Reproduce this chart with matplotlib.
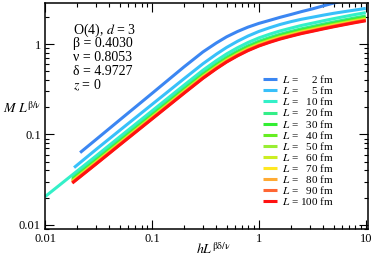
import matplotlib
matplotlib.use("Agg")
import matplotlib.pyplot as plt
from matplotlib import ticker

plt.rcParams['font.family'] = ['Liberation Serif', 'DejaVu Serif']
plt.rcParams['mathtext.fontset'] = 'stix'

# x = h L^{beta delta / nu}, y = M L^{beta / nu}
x_common = [0.018, 0.03, 0.05, 0.1, 0.2, 0.3, 0.4, 0.5, 0.63, 0.79, 1,
            1.26, 1.58, 2, 2.5, 3.2, 4, 5, 6.3, 7.9, 10]

x_L2 = [0.0213, 0.03, 0.05, 0.1, 0.2, 0.3, 0.4, 0.5, 0.63, 0.79, 1,
        1.26, 1.58, 2, 2.5, 3.2, 4, 5, 6.3]
y_L2 = [0.063, 0.0879, 0.1448, 0.2842, 0.5606, 0.8193, 1.0287, 1.2046, 1.3764,
        1.5397, 1.6946, 1.8305, 1.9784, 2.128, 2.2873, 2.4603, 2.6496, 2.8438, 3.03]

x_L5 = [0.0187, 0.03, 0.05, 0.1, 0.2, 0.3, 0.4, 0.5, 0.63, 0.79, 1,
        1.26, 1.58, 2, 2.5, 3.2, 4, 5, 6.3, 7.9, 10]
y_L5 = [0.043, 0.0682, 0.1111, 0.2146, 0.4147, 0.6061, 0.7729, 0.9193, 1.073,
        1.2267, 1.3804, 1.5167, 1.6487, 1.7734, 1.8821, 1.9877, 2.0902, 2.1911,
        2.2864, 2.3805, 2.4838]

x_L10 = [0.01] + x_common
y_L10 = [0.0205, 0.0357, 0.0578, 0.0942, 0.182, 0.3518, 0.5141, 0.6556, 0.7798,
         0.9102, 1.0406, 1.171, 1.2866, 1.3985, 1.5043, 1.6076, 1.7097, 1.8106,
         1.9114, 2.016, 2.1218, 2.23]

y_L20 = [0.0328, 0.0531, 0.0866, 0.1672, 0.3232, 0.4723, 0.6023, 0.7164, 0.8362,
         0.956, 1.0758, 1.182, 1.2848, 1.382, 1.4769, 1.5707, 1.6634, 1.756,
         1.8521, 1.9493, 2.0487]
y_L30 = [0.0316, 0.0512, 0.0835, 0.1613, 0.3117, 0.4556, 0.581, 0.6911, 0.8066,
         0.9221, 1.0377, 1.1401, 1.2393, 1.3331, 1.4246, 1.5151, 1.6045, 1.6939,
         1.7865, 1.8803, 1.9762]
y_L40 = [0.031, 0.0503, 0.082, 0.1584, 0.306, 0.4473, 0.5703, 0.6784, 0.7918,
         0.9052, 1.0186, 1.1192, 1.2166, 1.3086, 1.3985, 1.4873, 1.575, 1.6628,
         1.7537, 1.8458, 1.9399]
y_L50 = [0.0306, 0.0496, 0.0808, 0.1561, 0.3017, 0.441, 0.5623, 0.6689, 0.7807,
         0.8925, 1.0044, 1.1035, 1.1995, 1.2903, 1.3789, 1.4665, 1.553, 1.6395,
         1.7291, 1.8199, 1.9127]
y_L60 = [0.0302, 0.0489, 0.0797, 0.1539, 0.2974, 0.4347, 0.5543, 0.6594, 0.7696,
         0.8798, 0.9901, 1.0878, 1.1825, 1.2719, 1.3593, 1.4456, 1.5309, 1.6162,
         1.7046, 1.794, 1.8855]
y_L70 = [0.0299, 0.0484, 0.0789, 0.1524, 0.2946, 0.4305, 0.549, 0.653, 0.7622,
         0.8714, 0.9806, 1.0774, 1.1711, 1.2597, 1.3462, 1.4317, 1.5162, 1.6006,
         1.6882, 1.7768, 1.8674]
y_L80 = [0.0296, 0.0479, 0.0781, 0.151, 0.2917, 0.4264, 0.5437, 0.6467, 0.7548,
         0.8629, 0.971, 1.0669, 1.1597, 1.2475, 1.3331, 1.4178, 1.5014, 1.5851,
         1.6718, 1.7595, 1.8493]
y_L90 = [0.0293, 0.0475, 0.0774, 0.1495, 0.2889, 0.4222, 0.5383, 0.6403, 0.7474,
         0.8545, 0.9615, 1.0565, 1.1484, 1.2352, 1.3201, 1.4039, 1.4867, 1.5695,
         1.6554, 1.7423, 1.8311]
y_L100 = [0.029, 0.047, 0.0766, 0.148, 0.286, 0.418, 0.533, 0.634, 0.740, 0.846,
          0.952, 1.046, 1.137, 1.223, 1.307, 1.390, 1.472, 1.554, 1.639, 1.725,
          1.813]

sizes = [2, 5, 10, 20, 30, 40, 50, 60, 70, 80, 90, 100]
colors = ['#3b86f2', '#38c0fa', '#33f0c8', '#33ee88', '#33ee33', '#66ee22',
          '#99ee33', '#ccee22', '#ffe822', '#ffaa33', '#ff6633', '#ff1111']
curves = [(x_L2, y_L2), (x_L5, y_L5), (x_L10, y_L10),
          (x_common, y_L20), (x_common, y_L30), (x_common, y_L40),
          (x_common, y_L50), (x_common, y_L60), (x_common, y_L70),
          (x_common, y_L80), (x_common, y_L90), (x_common, y_L100)]

fig = plt.figure(figsize=(3.72, 2.61), dpi=100)
ax = fig.add_axes([45 / 372, 1 - 229 / 261, 323 / 372, 226 / 261])

for n, col, (xs, ys) in zip(sizes, colors, curves):
    lab = "$L$ = " + f"{n:>3}".replace(" ", "\u2007") + " fm"
    ax.plot(xs, ys, color=col, lw=2.2, label=lab, solid_capstyle='butt')

ax.set_xscale('log')
ax.set_yscale('log')
ax.set_xlim(0.01, 10.5)
ax.set_ylim(0.009, 2.85)

fmt = ticker.FuncFormatter(lambda v, p: f"{v:g}")
ax.xaxis.set_major_formatter(fmt)
ax.yaxis.set_major_formatter(fmt)
ax.xaxis.set_minor_formatter(ticker.NullFormatter())
ax.yaxis.set_minor_formatter(ticker.NullFormatter())
ax.tick_params(which='both', direction='in', top=True, right=True, width=0.8)
ax.tick_params(which='major', length=6.5, labelsize=9, pad=3)
ax.tick_params(which='minor', length=3.2)
for s in ax.spines.values():
    s.set_linewidth(1.1)

ax.set_xlabel(r"$h L^{\mathrm{\beta\delta/\nu}}$", fontsize=10, va='center')
ax.xaxis.set_label_coords(0.52, -0.09)
ax.set_ylabel(r"$M\ L^{\mathrm{\beta/\nu}}$", fontsize=10, rotation=0,
              ha='left', va='center')
ax.yaxis.set_label_coords(-0.13, 0.535)

info = ["O(4), $d$ = 3", "β = 0.4030", "ν = 0.8053", "δ = 4.9727", "$z$ = 0"]
for i, t in enumerate(info):
    ax.text(0.087, 0.881 - i * 0.061, t, transform=ax.transAxes,
            fontsize=10, va='center', ha='left')

ax.legend(loc='upper left', bbox_to_anchor=(0.675, 0.69), frameon=False,
          fontsize=8, handlelength=1.25, handletextpad=0.45,
          labelspacing=-0.08, borderpad=0, borderaxespad=0)

fig.savefig("out.png", dpi=100)
